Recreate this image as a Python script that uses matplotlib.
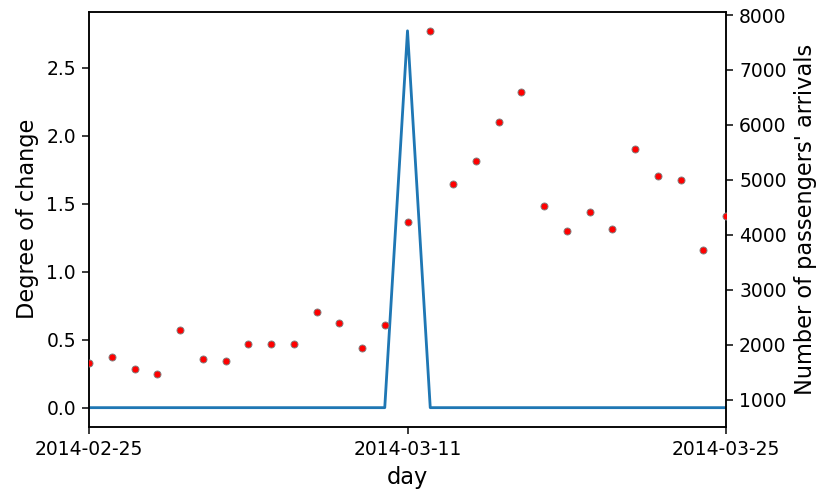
import numpy as np
import pandas as pd
import matplotlib
matplotlib.use('Agg')
import matplotlib.pyplot as plt
import matplotlib.dates as mdates

# daily values, 2014-02-25 .. 2014-03-25
days = pd.date_range('2014-02-25', '2014-03-25', freq='D')
change = [0.0] * 14 + [2.77] + [0.0] * 14
arrivals = [1673, 1777, 1564, 1467, 2270, 1741, 1704, 2015, 2015, 2015,
            2604, 2398, 1947, 2361, 4241, 7714, 4934, 5349, 6047, 6600,
            4520, 4071, 4418, 4100, 5560, 5075, 5002, 3724, 4345]
tick_days = ['2014-02-25', '2014-03-11', '2014-03-25']

DPI = 135
fig, ax = plt.subplots(figsize=(817 / DPI, 494 / DPI), dpi=DPI)
fig.subplots_adjust(left=89 / 817, right=726 / 817, top=1 - 12 / 494, bottom=1 - 426.5 / 494)

ax.plot(days, change, color='#1f77b4')
ax.set_ylabel('Degree of change', fontsize=12)
ax.set_xlabel('day', fontsize=12)
ax.set_xlim(days[0], days[-1])
ax.set_xticks(pd.to_datetime(tick_days))
ax.xaxis.set_major_formatter(mdates.DateFormatter('%Y-%m-%d'))

ax2 = ax.twinx()
ax2.scatter(days, arrivals, s=14, c='red', edgecolors='gray', linewidths=0.5, zorder=3)
ax2.set_ylim(514, 8055)
ax2.set_yticks(range(1000, 8001, 1000))
ax2.set_ylabel("Number of passengers' arrivals", fontsize=12)

fig.savefig('out.png', dpi=DPI)
